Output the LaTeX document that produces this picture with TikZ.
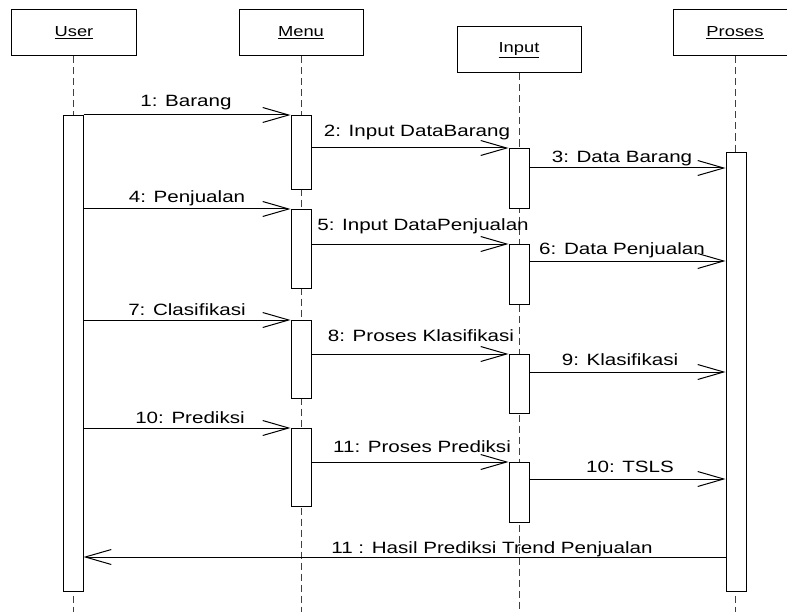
\documentclass[tikz,border=0pt]{standalone}
\usepackage{fontspec}
\setmainfont{Liberation Sans}[FakeStretch=1.26]
\usetikzlibrary{arrows.meta}
\begin{document}
\begin{tikzpicture}[x=1bp,y=-1bp,
  head/.style={draw,line width=1bp,minimum width=124bp,minimum height=46bp,inner sep=0,font=\fontsize{14.6}{16}\selectfont},
  act/.style={draw,fill=white,line width=1bp,minimum width=20bp,inner sep=0,anchor=north},
  life/.style={line width=1bp,dash pattern=on 7bp off 4bp,black!75},
  msg/.style={line width=1bp,-{Straight Barb[length=26bp,width=15bp,line width=1bp]}},
  lbl/.style={anchor=base,inner sep=0,font=\fontsize{16.4}{18}\selectfont}]
\useasboundingbox (0,0) rectangle (787,612);
% headers
\node[head] (user) at (74,33) {\underline{User}};
\node[head] (menu) at (301,33) {\underline{Menu}};
\node[head] (input) at (519,50) {\underline{Input}};
\node[head] (proses) at (735,33) {\underline{Proses}};
% lifeline ends
\coordinate (ue) at (73,612);
\coordinate (me) at (301,612);
\coordinate (ie) at (519,612);
\coordinate (pe) at (735,612);
\draw[life] (user.south -| ue) -- (ue);
\draw[life] (menu.south -| me) -- (me);
\draw[life] (input.south -| ie) -- (ie);
\draw[life] (proses.south -| pe) -- (pe);
% activations
\node[act,minimum height=476bp] (ua) at (73,115) {};
\node[act,minimum height=74bp] (m1) at (301,115) {};
\node[act,minimum height=79bp] (m2) at (301,209) {};
\node[act,minimum height=78bp] (m3) at (301,320) {};
\node[act,minimum height=78bp] (m4) at (301,428) {};
\node[act,minimum height=60bp] (i1) at (519,148) {};
\node[act,minimum height=60bp] (i2) at (519,244) {};
\node[act,minimum height=59bp] (i3) at (519,354) {};
\node[act,minimum height=60bp] (i4) at (519,462) {};
\node[act,minimum height=439bp] (pa) at (736,152) {};
% messages
\draw[msg] (ua.east |- m1.north) -- (m1.north west);
\draw[msg] (m1.east |- i1.north) -- (i1.north west);
\draw[msg] (i1.east |- 0,168) -- (pa.west |- 0,168);
\draw[msg] (ua.east |- m2.north) -- (m2.north west);
\draw[msg] (m2.east |- i2.north) -- (i2.north west);
\draw[msg] (i2.east |- 0,261) -- (pa.west |- 0,261);
\draw[msg] (ua.east |- m3.north) -- (m3.north west);
\draw[msg] (m3.east |- i3.north) -- (i3.north west);
\draw[msg] (i3.east |- 0,372) -- (pa.west |- 0,372);
\draw[msg] (ua.east |- m4.north) -- (m4.north west);
\draw[msg] (m4.east |- i4.north) -- (i4.north west);
\draw[msg] (i4.east |- 0,479) -- (pa.west |- 0,479);
\draw[msg] (pa.west |- 0,557) -- (ua.east |- 0,557);
% labels
\node[lbl] (l1) at (186,107) {1: Barang};
\node[lbl] (l2) at (417,137) {2: Input DataBarang};
\node[lbl] (l3) at (622,163) {3: Data Barang};
\node[lbl] (l4) at (187,203) {4: Penjualan};
\node[lbl] (l5) at (423,231) {5: Input DataPenjualan};
\node[lbl] (l6) at (622,254) {6: Data Penjualan};
\node[lbl] (l7) at (187,315) {7: Clasifikasi};
\node[lbl] (l8) at (421,341) {8: Proses Klasifikasi};
\node[lbl] (l9) at (620,365) {9: Klasifikasi};
\node[lbl] (l10) at (190,423) {10: Prediksi};
\node[lbl] (l11) at (422,452) {11: Proses Prediksi};
\node[lbl] (l12) at (630,472) {10: TSLS};
\node[lbl] (l13) at (492,553) {11 : Hasil Prediksi Trend Penjualan};
\end{tikzpicture}
\end{document}
